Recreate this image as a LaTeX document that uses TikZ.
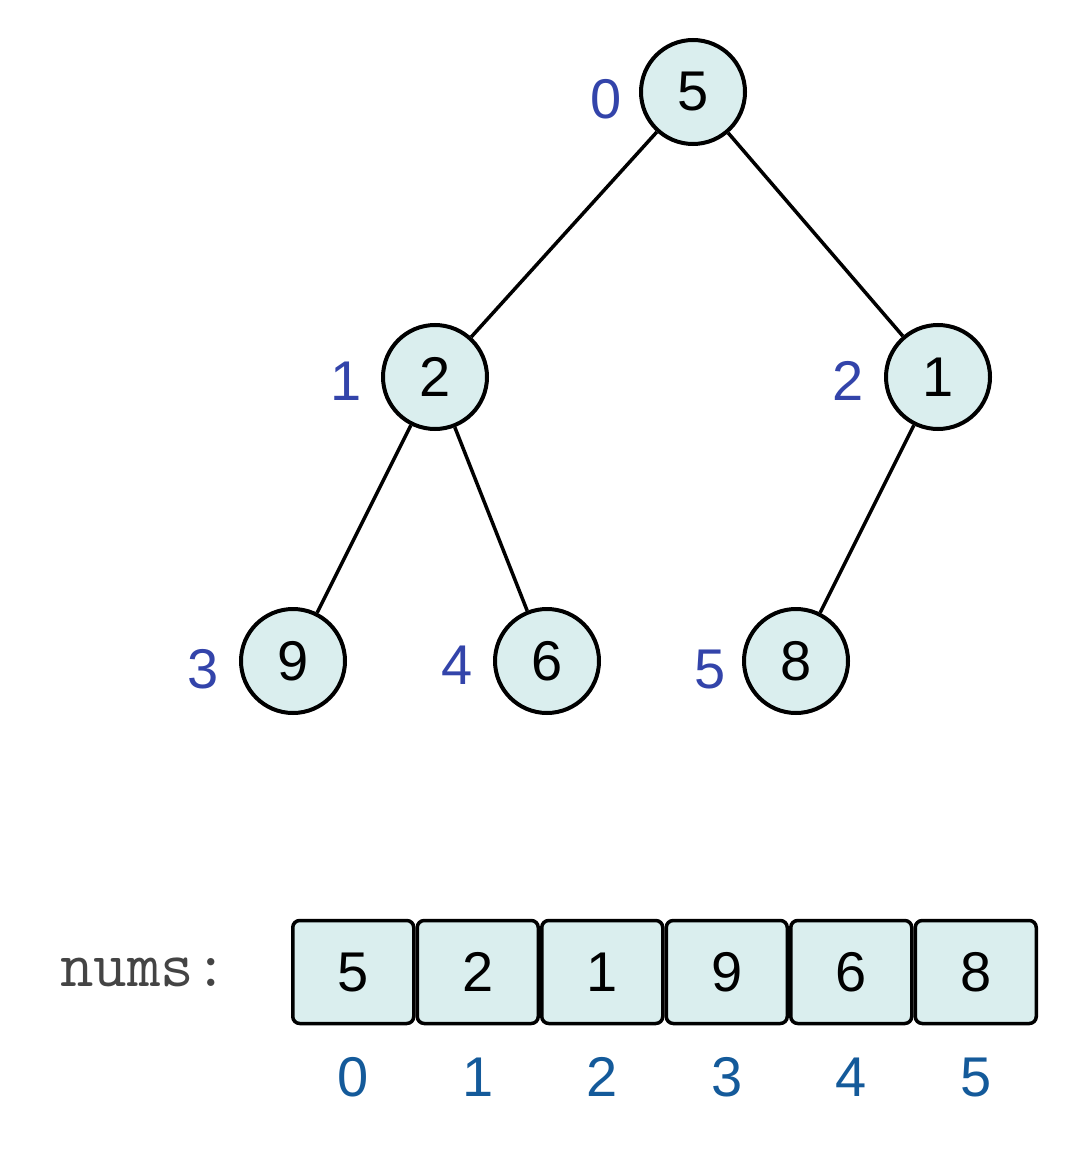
\documentclass[tikz,border=0pt]{standalone}
\usepackage{fontspec}
\setmainfont{Liberation Sans}
\definecolor{cellfill}{HTML}{DAEEEE}
\definecolor{treeidx}{HTML}{3344AA}
\definecolor{arridx}{HTML}{145A9A}
\definecolor{labgray}{HTML}{444444}
\begin{document}
\begin{tikzpicture}[x=1pt,y=-1pt,
  bigfont/.style={font=\fontsize{56}{60}\selectfont},
  treenode/.style={circle,draw=black,line width=4pt,fill=cellfill,minimum size=104pt,inner sep=0pt,bigfont},
  cellbox/.style={rectangle,rounded corners=7pt,draw=black,line width=3.5pt,fill=cellfill,minimum width=121pt,minimum height=103pt,inner sep=0pt,bigfont},
  tidx/.style={text=treeidx,inner sep=0pt,bigfont},
  aidx/.style={text=arridx,inner sep=0pt,bigfont},
  edge/.style={line width=3.5pt,draw=black}]
\useasboundingbox (0,0) rectangle (1077,1166);
% tree nodes
\node[treenode] (n0) at (693,92) {5};
\node[treenode] (n1) at (435,377) {2};
\node[treenode] (n2) at (938,377) {1};
\node[treenode] (n3) at (293,661) {9};
\node[treenode] (n4) at (547,661) {6};
\node[treenode] (n5) at (796,661) {8};
% edges
\draw[edge] (n0) -- (n1);
\draw[edge] (n0) -- (n2);
\draw[edge] (n1) -- (n3);
\draw[edge] (n1) -- (n4);
\draw[edge] (n2) -- (n5);
% tree indices
\node[tidx] (t0) at (606,99) {0};
\node[tidx] (t1) at (346,381) {1};
\node[tidx] (t2) at (848,381) {2};
\node[tidx] (t3) at (203,669) {3};
\node[tidx] (t4) at (457,665) {4};
\node[tidx] (t5) at (710,670) {5};
% array
\node[text=labgray,inner sep=0pt,font=\ttfamily\fontsize{65}{70}\selectfont] (lab) at (144,972) {nums:};
\node[cellbox] (c0) at (353.25,972) {5};
\node[cellbox] (c1) at (477.75,972) {2};
\node[cellbox] (c2) at (602.25,972) {1};
\node[cellbox] (c3) at (726.75,972) {9};
\node[cellbox] (c4) at (851.25,972) {6};
\node[cellbox] (c5) at (975.75,972) {8};
\node[aidx] (a0) at (353.25,1077) {0};
\node[aidx] (a1) at (477.75,1077) {1};
\node[aidx] (a2) at (602.25,1077) {2};
\node[aidx] (a3) at (726.75,1077) {3};
\node[aidx] (a4) at (851.25,1077) {4};
\node[aidx] (a5) at (975.75,1077) {5};
\end{tikzpicture}
\end{document}
